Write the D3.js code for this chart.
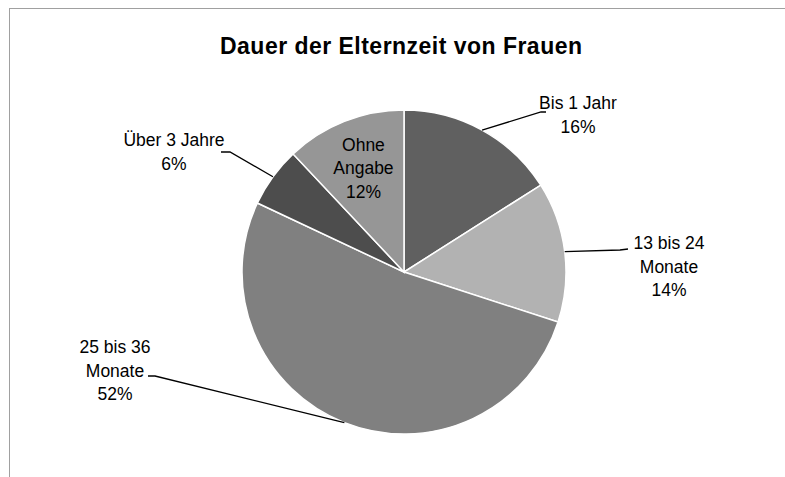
<!DOCTYPE html>
<html>
<head>
<meta charset="utf-8">
<script src="https://cdn.jsdelivr.net/npm/d3@7"></script>
<style>
  body { margin: 0; background: #fff; }
  svg text { font-family: "Liberation Sans", Arial, sans-serif; fill: #000; }
</style>
</head>
<body>
<div id="chart"></div>
<script>
// data
var categories = ["Bis 1 Jahr", "13 bis 24 Monate", "25 bis 36 Monate", "Über 3 Jahre", "Ohne Angabe"];
var values = [16, 14, 52, 6, 12];
var labelLines = [["Bis 1 Jahr"], ["13 bis 24", "Monate"], ["25 bis 36", "Monate"], ["Über 3 Jahre"], ["Ohne", "Angabe"]];
var colors = ["#606060", "#b2b2b2", "#808080", "#4d4d4d", "#969696"];

var width = 785, height = 477;
var cx = 404, cy = 272, r = 162;

// label layout (block center x, first baseline y, elbow point); null = inside
var labelLayout = [
  {x: 578, y: 109, elbow: [541, 112], end: [546, 112]},
  {x: 669, y: 249, elbow: [620, 250], end: [628, 249]},
  {x: 115, y: 353, elbow: [155, 376], end: [148, 376]},
  {x: 174, y: 146, elbow: [230, 152], end: [221, 152]},
  null
];

var svg = d3.select("#chart").append("svg")
  .attr("width", width)
  .attr("height", height);

// chart frame (runs off right/bottom like the source)
svg.append("rect")
  .attr("x", 9.5).attr("y", 8.5)
  .attr("width", 800).attr("height", 500)
  .attr("fill", "none")
  .attr("stroke", "#a0a0a0")
  .attr("stroke-width", 1);

svg.append("text")
  .attr("x", 401).attr("y", 54)
  .attr("text-anchor", "middle")
  .attr("textLength", 362)
  .attr("lengthAdjust", "spacing")
  .style("font-weight", "bold")
  .style("font-size", "23px")
  .text("Dauer der Elternzeit von Frauen");

var pie = d3.pie().sort(null).value(function(d) { return d; });
var arcs = pie(values);
var arc = d3.arc().innerRadius(0).outerRadius(r);

var g = svg.append("g").attr("transform", "translate(" + cx + "," + cy + ")");

g.selectAll("path.slice")
  .data(arcs)
  .enter().append("path")
  .attr("class", "slice")
  .attr("d", arc)
  .attr("fill", function(d, i) { return colors[i]; })
  .attr("stroke", "#fff")
  .attr("stroke-width", 1.5);

// leader lines + labels
arcs.forEach(function(d, i) {
  var lay = labelLayout[i];
  var mid = (d.startAngle + d.endAngle) / 2;
  var lines = labelLines[i].concat([values[i] + "%"]);
  var tx, ty;
  if (lay) {
    var px = cx + Math.sin(mid) * r, py = cy - Math.cos(mid) * r;
    svg.append("polyline")
      .attr("points", [[px, py], lay.elbow, lay.end].map(function(p) { return p.join(","); }).join(" "))
      .attr("fill", "none")
      .attr("stroke", "#000")
      .attr("stroke-width", 1.3);
    tx = lay.x; ty = lay.y;
  } else {
    tx = cx + Math.sin(mid) * r * 0.68;
    ty = cy - Math.cos(mid) * r * 0.68 - 19;
  }
  var t = svg.append("text")
    .attr("text-anchor", "middle")
    .style("font-size", "17.5px");
  lines.forEach(function(s, k) {
    t.append("tspan").attr("x", tx).attr("y", ty + k * 23.5).text(s);
  });
});
</script>
</body>
</html>
